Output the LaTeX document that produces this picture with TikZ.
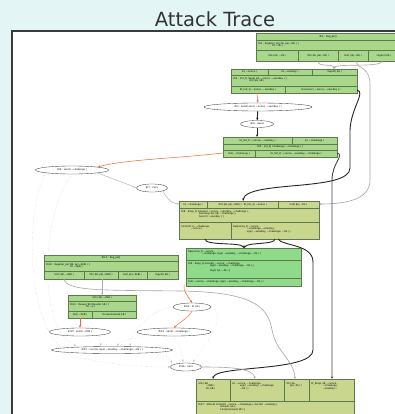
\documentclass[tikz,border=0pt]{standalone}
\usepackage{fontspec}
\setmainfont{DejaVu Sans}
\usetikzlibrary{shapes.geometric,arrows.meta}
\definecolor{bgcyan}{HTML}{E3F5F5}
\definecolor{recgreen}{HTML}{A9D88C}
\definecolor{recolive}{HTML}{C9D68E}
\definecolor{recbright}{HTML}{8FDB8A}
\definecolor{recline}{HTML}{5E7A4C}
\definecolor{edgered}{HTML}{F2652E}
\definecolor{framegray}{HTML}{3A3A3A}
\newcommand{\tld}{\textasciitilde}
\begin{document}
\begin{tikzpicture}[x=1pt,y=-1pt,
  rec/.style={draw=recline,line width=0.3pt,inner sep=0pt,anchor=north west},
  div/.style={draw=recline,line width=0.3pt},
  tx/.style={font=\fontsize{2.4}{2.9}\selectfont,inner sep=0pt,align=center},
  txl/.style={tx,align=left,anchor=north west},
  ev/.style={ellipse,draw=gray!50!black,line width=0.35pt,fill=white,inner sep=0pt,
    font=\fontsize{2.4}{2.9}\selectfont},
  tip/.style={-{Stealth[length=2.6pt,width=2.2pt]}},
  redge/.style={tip,draw=edgered,line width=0.5pt},
  bedge/.style={tip,draw=black!85,line width=0.9pt},
  gedge/.style={tip,draw=gray!70,line width=0.6pt},
  dedge/.style={tip,draw=gray!45,line width=0.45pt,dotted}]
\useasboundingbox (0,0) rectangle (395,414);
\fill[bgcyan] (0,0) rectangle (395,414);
\node[font=\fontsize{19.5}{22}\selectfont,text=black!80,anchor=base] (title) at (215,26.5) {Attack Trace};
\draw[framegray,line width=1.2pt,fill=white] (12,31) rectangle (412,432);

% ---- registration of A
\node[rec,fill=recgreen,minimum width=144pt,minimum height=28pt] (b1) at (256,33) {};
\draw[div] (256,40) -- (400,40) (256,50) -- (400,50) (298,50) -- (298,61) (338,50) -- (338,61) (368,50) -- (368,61);
\node[tx] (b1a) at (328,36.5) {\#i1 : Reg\_pk[]};
\node[txl] (b1b) at (258,42) {\#i1 : Register\_pk( \$A, pk(\tld ltk) ) ]\\\hspace{14pt}Fr( \tld ltk )};
\node[tx] (b1c) at (277,55.5) {!Ltk( \$A, \tld ltk )};
\node[tx] (b1d) at (318,55.5) {!Pk( \$A, pk(\tld ltk) )};
\node[tx] (b1e) at (353,55.5) {Out( pk(\tld ltk) )};
\node[tx] (b1f) at (384,55.5) {!Agent( \$A )};

% ---- Init_1
\node[rec,fill=recgreen,minimum width=126pt,minimum height=24pt] (b2) at (231,69) {};
\draw[div] (231,75) -- (357,75) (231,86) -- (357,86) (268,69) -- (268,75) (312,69) -- (312,75) (285,86) -- (285,93);
\node[tx] (b2a) at (249.5,72) {In( \tld nonce )};
\node[tx] (b2b) at (290,72) {In( \tld sessKey )};
\node[tx] (b2c) at (334.5,72) {!Agent( \$A )};
\node[txl] (b2d) at (233,77) {\#i2 : Init\_1[ Send( \$A, \tld nonce, \tld sessKey ) ]\\\hspace{16pt}Init( \$A, \$B )};
\node[tx] (b2e) at (258,89.5) {St\_Init\_1( \tld nonce, \tld sessKey )};
\node[tx] (b2f) at (321,89.5) {Out( senc( \tld nonce, \tld sessKey ) )};

\node[ev,minimum width=108pt,minimum height=8pt] (e1) at (258,107) {\#i3 : send( senc( \tld nonce, \tld sessKey ) )};
\node[ev,minimum width=33pt,minimum height=7pt] (e2) at (257,124) {\#i4 : isend};

% ---- Init_2
\node[rec,fill=recgreen,minimum width=114pt,minimum height=20pt] (b3) at (223,137) {};
\draw[div] (223,144) -- (337,144) (223,150) -- (337,150) (292,137) -- (292,144) (255,150) -- (255,157);
\node[tx] (b3a) at (257.5,140.5) {St\_Init\_1( \tld nonce, \tld sessKey )};
\node[tx] (b3b) at (314.5,140.5) {In( \tld challenge )};
\node[tx] (b3c) at (280,147) {\#i5 : Init\_2[ Challenge( \tld challenge ) ]};
\node[tx] (b3d) at (239,153.5) {Out( \tld challenge )};
\node[tx] (b3e) at (296,153.5) {St\_Init\_2( \tld nonce, \tld sessKey, \tld challenge )};

\node[ev,minimum width=73pt,minimum height=8pt] (e3) at (72,170) {\#i6 : send( \tld challenge )};
\node[ev,minimum width=31pt,minimum height=8pt] (e4) at (152,188) {\#i7 : irecv};

% ---- Resp_1
\node[rec,fill=recolive,minimum width=140pt,minimum height=38pt] (b4) at (179,201) {};
\draw[div] (179,208) -- (319,208) (179,222) -- (319,222) (207,201) -- (207,208) (278,201) -- (278,208) (231,222) -- (231,239);
\node[tx] (b4a) at (193,204.5) {In( \tld challenge )};
\node[tx] (b4b) at (242.5,204.5) {!Pk( \$B, pk(\tld ltkB) ) ~ St\_Init\_2( \tld nonce )};
\node[tx] (b4c) at (298.5,204.5) {!Ltk( \$A, \tld ltk )};
\node[txl] (b4d) at (181,210) {\#i8 : Resp\_1[ Answer( \tld nonce, \tld sessKey, \tld challenge ),\\\hspace{18pt}Running( \$A, \$B, \tld challenge ),\\\hspace{18pt}Secret( \tld sessKey ) ]};
\node[txl] (b4e) at (181,225) {Commit( A, \tld challenge,\\\hspace{10pt}\tld nonce )};
\node[txl] (b4f) at (233,225) {Response\_1( \tld nonce,\\\hspace{14pt}\tld challenge, \tld sessKey,\\\hspace{14pt}sign( \tld sessKey, \tld challenge, \tld ltk ) )};

% ---- Resp_2
\node[rec,fill=recbright,minimum width=115pt,minimum height=38pt] (b5) at (186,248) {};
\draw[div] (186,260) -- (301,260) (186,278) -- (301,278);
\node[txl] (b5a) at (188,250) {Response\_1( \tld nonce,\\\hspace{14pt}\tld challenge, sign( \tld sessKey, \tld challenge, \tld ltk ) )};
\node[txl] (b5b) at (188,262) {\#i9 : Resp\_2[ Accept( \tld nonce, \tld challenge,\\\hspace{22pt}sign( \tld sessKey, \tld challenge, \tld ltk ) ),\\[2pt]\hspace{22pt}Sign( \$A, \tld ltk ) ]};
\node[txl] (b5c) at (188,280) {Out( \tld nonce, \tld challenge, sign( \tld sessKey, \tld challenge, \tld ltk ) )};

% ---- registration of B
\node[rec,fill=recgreen,minimum width=134pt,minimum height=24pt] (b6) at (44,255) {};
\draw[div] (44,261) -- (178,261) (44,271) -- (178,271) (84,271) -- (84,279) (118,271) -- (118,279) (147,271) -- (147,279);
\node[tx] (b6a) at (111,258) {\#i10 : Reg\_pk[]};
\node[txl] (b6b) at (46,263) {\#i10 : Register\_pk( \$B, pk(\tld ltkB) ) ]\\\hspace{24pt}Fr( \tld ltkB )};
\node[tx] (b6c) at (64,275) {!Ltk( \$B, \tld ltkB )};
\node[tx] (b6d) at (101,275) {!Pk( \$B, pk(\tld ltkB) )};
\node[tx] (b6e) at (132.5,275) {Out( pk(\tld ltkB) )};
\node[tx] (b6f) at (162.5,275) {!Agent( \$B )};

% ---- reveal of B's key
\node[rec,fill=recgreen,minimum width=68pt,minimum height=23pt] (b7) at (68,295) {};
\draw[div] (68,301) -- (136,301) (68,311) -- (136,311) (92,311) -- (92,318);
\node[tx] (b7a) at (102,298) {!Ltk( \$B, \tld ltkB )};
\node[txl] (b7b) at (70,303) {\#i11 : Reveal\_ltk[ RevLtk( \$B ) ]\\\hspace{16pt}Fr( \tld x )};
\node[tx] (b7c) at (80,314.5) {Out( \tld ltkB )};
\node[tx] (b7d) at (114,314.5) {!Compromised( \$B )};

\node[ev,minimum width=38pt,minimum height=8pt] (e5) at (192,307) {\#i12 : K( \$A )};
\node[ev,minimum width=61pt,minimum height=8pt] (e6) at (80,332) {\#i13 : send( \tld ltkB )};
\node[ev,minimum width=74pt,minimum height=8pt] (e7) at (174,332) {\#i14 : send( \tld challenge )};
\node[ev,minimum width=121pt,minimum height=7pt] (e8) at (112,350) {\#i15 : coerce( sign( \tld sessKey, \tld challenge, \tld ltk ) )};
\node[ev,minimum width=31pt,minimum height=8pt] (e9) at (186,367) {\#i16 : irecv};

% ---- final rule
\node[rec,fill=recolive,minimum width=158pt,minimum height=50pt] (b8) at (196,379) {};
\draw[div] (196,401) -- (354,401) (230,379) -- (230,401) (284,379) -- (284,401) (309,379) -- (309,401);
\node[txl] (b8a) at (198,382) {!Ltk( \$B,\\\hspace{8pt}\tld ltkB )\\\hspace{8pt}St( \$B )};
\node[txl] (b8b) at (232,382) {In( \tld nonce, \tld challenge,\\\hspace{8pt}sign( \tld sessKey, \tld challenge,\\\hspace{8pt}\tld ltk ) )};
\node[txl] (b8c) at (286,382) {!Pk( \$A,\\\hspace{4pt}pk(\tld ltk) )};
\node[txl] (b8d) at (311,382) {St\_Resp( \$B, \tld nonce,\\\hspace{12pt}\tld challenge,\\\hspace{12pt}\tld sessKey )};
\node[txl] (b8e) at (198,403) {\#i17 : Attack[ Commit( \tld nonce, \tld challenge ), Secret( \tld sessKey ),\\\hspace{22pt}Honest( \$A ),\\\hspace{22pt}Compromised( \$B ) ]};

% ---- record ports
\coordinate (p1a) at (318,61);
\coordinate (p1b) at (356,61);
\coordinate (p1c) at (382,61);
\coordinate (p2in) at (334,69);
\coordinate (p2out) at (357,90);
\coordinate (p2s) at (257,93);
\coordinate (p3n) at (257,137);
\coordinate (p3w) at (223,153);
\coordinate (p3e) at (337,153);
\coordinate (p4nw) at (179,204);
\coordinate (p4n) at (243,201);
\coordinate (p4ne) at (319,204);
\coordinate (p4sa) at (205,239);
\coordinate (p4sb) at (275,239);
\coordinate (p4sc) at (278,239);
\coordinate (p5n) at (244,248);
\coordinate (p5s) at (184,285);
\coordinate (p6s) at (102,279);
\coordinate (p6w) at (64,279);
\coordinate (p7n) at (102,295);
\coordinate (p7s) at (80,318);
\coordinate (p8a) at (213,379);
\coordinate (p8b) at (255,379);
\coordinate (p8c) at (295,379);
\coordinate (p8d) at (332,379);

% ---- premise/conclusion links
\draw[gedge] (p1a) .. controls (318,68) and (333,63) .. (p2in);
\draw[gedge] (p1c) .. controls (382,68) and (336,63) .. (p2in);
\draw[gedge] (p1b) .. controls (358,70) and (370,66) .. (370,85) -- (370,180) .. controls (370,200) and (345,204) .. (p4ne);
\draw[bedge] (p2out) .. controls (366,92) and (351,108) .. (350,130) -- (350,168) .. controls (350,192) and (246,180) .. (p4n);
\draw[tip,draw=gray!55!black,line width=0.9pt] (p3e) .. controls (345,155) and (332,163) .. (332,180) -- (p8d);
\draw[bedge] (p4sa) .. controls (205,246) and (240,242) .. (p5n);
\draw[bedge] (p4sb) .. controls (275,245) and (248,242) .. (p5n);
\draw[bedge] (p4sc) .. controls (282,246) and (313,244) .. (313,262) -- (313,350) .. controls (313,372) and (215,365) .. (p8a);
\draw[gedge] (p6s) -- (p7n);
\draw[gedge] (p6w) .. controls (66,292) and (110,290) .. (180,291) .. controls (250,292) and (268,305) .. (272,330) .. controls (276,352) and (294,360) .. (p8c);

% ---- fresh sends
\draw[redge] (p2s) -- (e1);
\draw[redge] (p3w) .. controls (180,158) and (120,160) .. (e3.north east);
\draw[redge] (p7s) -- (e6);
\draw[redge] (p5s) .. controls (183,292) and (188,296) .. (e5.north);
\draw[redge] (e5.south) .. controls (188,318) and (180,322) .. (e7.north);

% ---- message flow
\draw[bedge] (e1) -- (e2);
\draw[bedge] (e2) -- (p3n);
\draw[gedge,draw=gray!50] (e3.south east) .. controls (110,178) and (125,183) .. (e4.west);
\draw[gedge,draw=gray!50] (e4.south east) .. controls (165,196) and (170,203) .. (p4nw);
\draw[dedge] (e3.south west) .. controls (25,205) and (22,345) .. (80,358) .. controls (120,366) and (150,367) .. (e9.west);
\draw[dedge] (e3.south) .. controls (40,215) and (38,330) .. (76,346);
\draw[dedge] (e6.south east) .. controls (96,338) and (100,340) .. (101,346);
\draw[dedge] (e7.south west) .. controls (140,338) and (120,340) .. (117,346);
\draw[dedge] (e5.west) .. controls (150,310) and (132,330) .. (130,346);
\draw[dedge] (e7.south) .. controls (178,345) and (182,352) .. (183,362);
\draw[dedge] (e8.east) .. controls (160,352) and (168,356) .. (172,363);
\draw[dedge] (e5.east) .. controls (228,318) and (205,345) .. (193,362);
\draw[gedge] (e9.east) .. controls (230,367) and (253,368) .. (p8b);
\end{tikzpicture}
\end{document}
